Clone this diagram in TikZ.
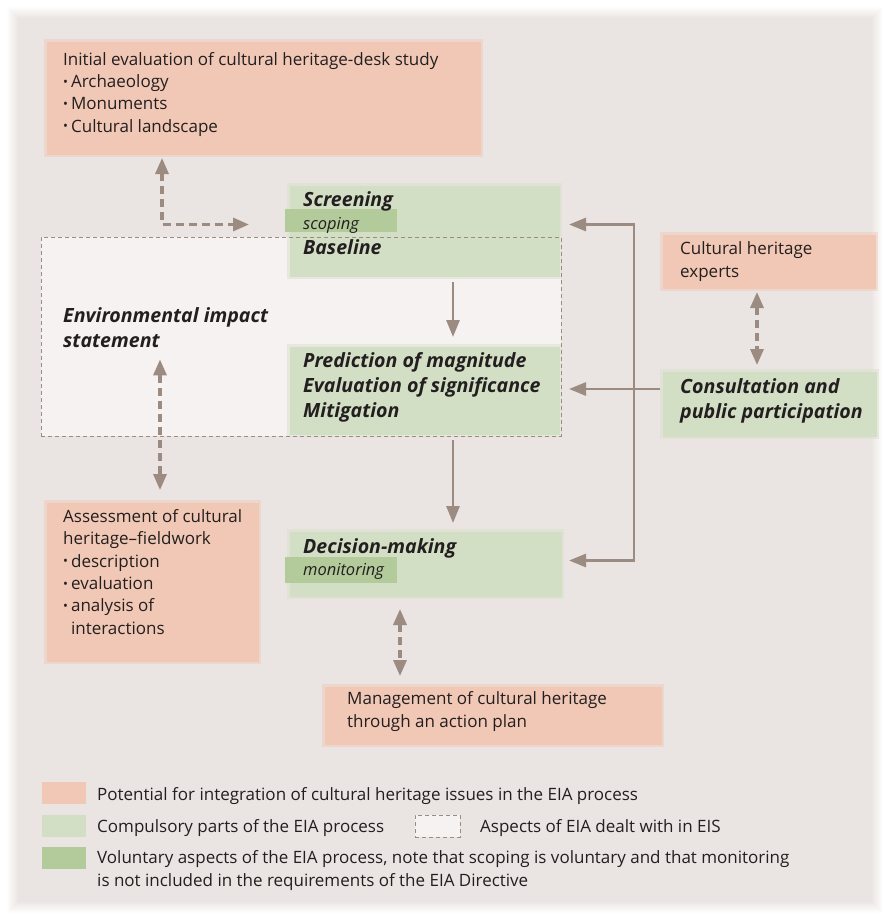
\documentclass[tikz,border=0pt]{standalone}
\usepackage{fontspec}
\setmainfont{Open Sans}
\usetikzlibrary{arrows.meta,calc}

\definecolor{panel}{HTML}{EAE5E2}
\definecolor{eisfill}{HTML}{F5F2F1}
\definecolor{peach}{HTML}{F1C8B5}
\definecolor{lgreen}{HTML}{D3DFC5}
\definecolor{dgreen}{HTML}{B3CA9A}
\definecolor{arrowc}{HTML}{9C8B81}
\definecolor{textc}{HTML}{231F20}

% small list bullet
\newcommand\bul{\raisebox{1.2pt}{\fontsize{13}{13}\selectfont\textbullet}\hspace{3pt}}

\tikzset{
  soft/.style={rectangle, inner sep=0pt, anchor=north west, line width=5pt, draw opacity=0.45},
  peachbox/.style={soft, fill=peach, draw=peach},
  greenbox/.style={soft, fill=lgreen, draw=lgreen},
  band/.style={rectangle, inner sep=0pt, anchor=north west, fill=dgreen},
  txt/.style={inner sep=0pt, anchor=base west, align=left, text=textc,
    font=\fontsize{17}{22.3}\selectfont},
  head/.style={txt, font=\fontsize{19.6}{25}\selectfont\bfseries\itshape},
  small/.style={txt, font=\fontsize{16.5}{22}\selectfont\itshape},
  arr/.style={draw=arrowc, line width=2.8pt, -{Triangle[length=17pt,width=13pt]}},
  arrtwo/.style={draw=arrowc, line width=2.8pt, {Triangle[length=17pt,width=13pt]}-{Triangle[length=17pt,width=13pt]}},
  darr/.style={draw=arrowc, line width=3.2pt, dash pattern=on 8pt off 5pt,
    {Triangle[length=16pt,width=13pt]}-{Triangle[length=16pt,width=13pt]}},
  eisline/.style={draw=arrowc, line width=0.9pt, dash pattern=on 4pt off 3pt},
  key/.style={rectangle, inner sep=0pt, anchor=north west, minimum width=44pt, minimum height=22pt},
}

\begin{document}
\begin{tikzpicture}[x=1pt, y=-1pt]
\useasboundingbox (0,0) rectangle (888,921);
\fill[white] (0,0) rectangle (888,921);

% soft-edged background panel
\foreach \i in {0,...,12} {
  \pgfmathtruncatemacro\p{\i*100/12}
  \fill[panel!\p!white] (6+\i,6+\i) rectangle (884-\i,914-\i);
}

% area covered by the environmental impact statement
\fill[eisfill] (41,237) rectangle (561,436);

% boxes
\node[peachbox, minimum width=434pt, minimum height=113pt] (init) at (44,39) {};
\node[greenbox, minimum width=270pt, minimum height=91pt] (screen) at (287,183) {};
\node[greenbox, minimum width=270pt, minimum height=88pt] (pred) at (287,344) {};
\node[greenbox, minimum width=272pt, minimum height=65pt] (dec) at (287,529) {};
\node[peachbox, minimum width=213pt, minimum height=54pt] (experts) at (660,232) {};
\node[greenbox, minimum width=214pt, minimum height=65pt] (cons) at (660,369) {};
\node[peachbox, minimum width=212pt, minimum height=159pt] (assess) at (44,500) {};
\node[peachbox, minimum width=337pt, minimum height=58pt] (manage) at (322,684) {};

% voluntary parts inside the green boxes
\node[band, minimum width=112pt, minimum height=23pt] (scopeband) at (285,209) {};
\node[band, minimum width=112pt, minimum height=26pt] (monband) at (285,557) {};

% outline of the environmental impact statement
\node[eisline, rectangle, inner sep=0pt, anchor=north west,
  minimum width=520pt, minimum height=199pt] (eis) at (41,237) {};

% texts (anchored at the baseline of their last line)
\node[txt] (inittxt) at (63,132) {Initial evaluation of cultural heritage-desk study\\
  \bul Archaeology\\ \bul Monuments\\ \bul Cultural landscape};
\node[head] (screentxt) at (303,206) {Screening};
\node[small] (scopetxt) at (303,229) {scoping};
\node[head] (basetxt) at (303,254) {Baseline};
\node[head] (eistxt) at (63,347) {Environmental impact\\statement};
\node[head] (predtxt) at (303,417) {Prediction of magnitude\\Evaluation of significance\\Mitigation};
\node[txt] (expertstxt) at (680,277) {Cultural heritage\\experts};
\node[head] (constxt) at (680,418) {Consultation and\\public participation};
\node[head] (dectxt) at (303,553) {Decision-making};
\node[small] (montxt) at (303,575) {monitoring};
\node[txt] (assesstxt) at (63,634) {Assessment of cultural\\heritage–fieldwork\\
  \bul description\\ \bul evaluation\\ \bul analysis of\\
  \hphantom{\bul}interactions};
\node[txt] (managetxt) at (347,727) {Management of cultural heritage\\through an action plan};

% process flow
\draw[arr] ([xshift=166pt,yshift=-3pt]screen.south west) -- ([xshift=166pt,yshift=7pt]pred.north west);
\draw[arr] ([xshift=166pt,yshift=-3pt]pred.south west) -- ([xshift=166pt,yshift=6pt]dec.north west);

% consultation feedback
\coordinate (bus) at (634,389);
\draw[arr] (cons.west |- bus) -- ([xshift=7pt]pred.east |- bus);
\draw[arrtwo] ([xshift=7pt,yshift=6.5pt]screen.east) -| (bus) |- ([xshift=5pt,yshift=3.5pt]dec.east);

% links with cultural heritage work
\draw[darr] ([xshift=118pt,yshift=-1pt]init.south west) |- ([xshift=-38pt,yshift=6.5pt]screen.west);
\draw[darr] ([xshift=97pt,yshift=-12pt]eistxt.south west) -- ([xshift=116pt,yshift=10pt]assess.north west);
\draw[darr] ([xshift=97pt,yshift=-1pt]experts.south west) -- ([xshift=97pt,yshift=4pt]cons.north west);
\draw[darr] ([xshift=113pt,yshift=-10pt]dec.south west) -- ([xshift=78pt,yshift=8pt]manage.north west);

% key
\node[key, fill=peach] (k1) at (42,782) {};
\node[key, fill=lgreen] (k2) at (42,815) {};
\node[key, fill=dgreen] (k3) at (42,847) {};
\node[key, eisline, fill=eisfill, minimum width=45pt] (k4) at (415,815) {};
\node[txt] (k1txt) at (97,800) {Potential for integration of cultural heritage issues in the EIA process};
\node[txt] (k2txt) at (97,832) {Compulsory parts of the EIA process};
\node[txt] (k4txt) at (480,832) {Aspects of EIA dealt with in EIS};
\node[txt] (k3txt) at (97,886) {Voluntary aspects of the EIA process, note that scoping is voluntary and that monitoring\\
  is not included in the requirements of the EIA Directive};
\end{tikzpicture}
\end{document}
